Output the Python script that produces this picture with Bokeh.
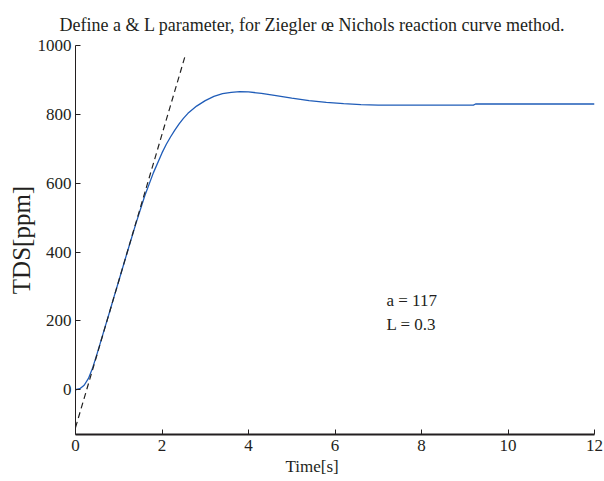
from bokeh.plotting import figure
from bokeh.models import Label, FixedTicker, Range1d, Title
from bokeh.embed import file_html
from bokeh.resources import INLINE

# ---- data ----
time_s = [0.0, 0.1, 0.2, 0.3, 0.4, 0.5, 0.6, 0.7, 0.8, 0.9, 1.0, 1.2, 1.4, 1.6,
          1.8, 2.0, 2.1, 2.2, 2.3, 2.4, 2.5, 2.6, 2.8, 3.0, 3.2, 3.4, 3.6, 3.8,
          4.0, 4.3, 4.6, 5.0, 5.4, 5.8, 6.2, 6.6, 7.0, 8.0, 9.2, 9.25, 10.0,
          11.0, 12.0]
tds_ppm = [0, 3, 13, 33, 65, 105, 147, 189, 231, 274, 316, 401, 484, 563,
           630, 688, 713, 735, 755, 773, 789, 803, 824, 840, 852, 860, 864, 866,
           865, 861, 855, 847, 840, 835, 831, 828, 827, 827, 827, 830, 830,
           830, 830]
tangent_time = [0.0, 2.54]
tangent_tds = [-110, 972]
x_ticks = [0, 2, 4, 6, 8, 10, 12]
y_ticks = [0, 200, 400, 600, 800, 1000]
title_text = "Define a & L parameter, for Ziegler œ Nichols reaction curve method."
x_label = "Time[s]"
y_label = "TDS[ppm]"
annot_a = "a = 117"
annot_L = "L = 0.3"

FONT = "Liberation Serif"
INK = "#231f20"

p = figure(width=604, height=478,
           x_range=Range1d(0, 12), y_range=Range1d(-130, 1000),
           output_backend="svg", toolbar_location=None,
           min_border_left=75, min_border_right=10,
           min_border_top=45, min_border_bottom=44)
p.outline_line_color = None
p.grid.visible = False
p.background_fill_color = "white"
p.border_fill_color = "white"

p.line(time_s, tds_ppm, line_color="#1f5cb8", line_width=1.3)
p.line(tangent_time, tangent_tds, line_color="#222222", line_width=1.2,
       line_dash="6 4")

for ax in (p.xaxis[0], p.yaxis[0]):
    ax.axis_line_color = INK
    ax.major_tick_line_color = INK
    ax.major_tick_in = 5
    ax.major_tick_out = 0
    ax.minor_tick_line_color = None
    ax.major_label_text_font = FONT
    ax.major_label_text_font_size = "17px"
    ax.major_label_text_color = INK

p.xaxis.ticker = FixedTicker(ticks=x_ticks)
p.yaxis.ticker = FixedTicker(ticks=y_ticks)
p.xaxis.axis_line_width = 2
p.yaxis.axis_line_width = 1
p.xaxis.major_label_standoff = 5
p.yaxis.major_label_standoff = 4

p.yaxis.axis_label = y_label
p.yaxis.axis_label_text_font = FONT
p.yaxis.axis_label_text_font_size = "25px"
p.yaxis.axis_label_text_font_style = "normal"
p.yaxis.axis_label_text_color = INK
p.yaxis.axis_label_standoff = 0

p.title.text = title_text
p.title.align = "left"
p.title.offset = -16
p.title.text_font = FONT
p.title.text_font_size = "18px"
p.title.text_font_style = "normal"
p.title.text_color = INK
p.title.standoff = 22

p.add_layout(Title(text=x_label, align="left", offset=210, text_font=FONT,
                   text_font_size="17px", text_font_style="normal",
                   text_color=INK, standoff=2), "below")

p.add_layout(Label(x=7.19, y=260, text=annot_a, text_align="left",
                   text_baseline="alphabetic", text_font=FONT,
                   text_font_size="17px", text_color=INK))
p.add_layout(Label(x=7.19, y=190, text=annot_L, text_align="left",
                   text_baseline="alphabetic", text_font=FONT,
                   text_font_size="17px", text_color=INK))

open("out.html", "w").write(file_html(p, INLINE))
